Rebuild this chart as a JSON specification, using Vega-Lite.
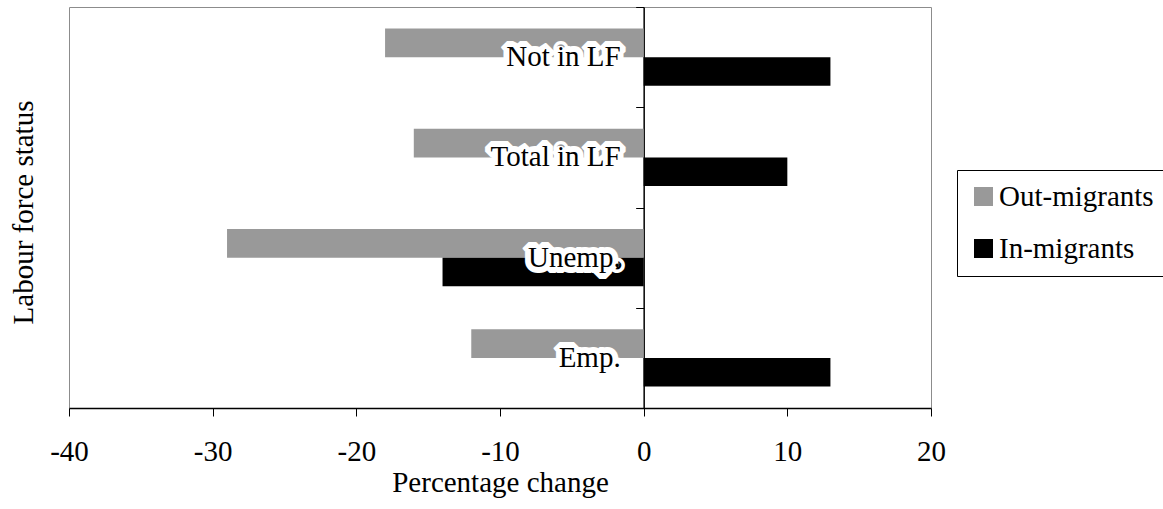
{
  "$schema": "https://vega.github.io/schema/vega-lite/v6.json",
  "autosize": {"type": "none"},
  "width": 862,
  "height": 401,
  "padding": {"left": 69, "top": 7, "right": 232, "bottom": 101},
  "background": "white",
  "config": {
    "font": "Liberation Serif",
    "view": {"stroke": "#8c8c8c", "strokeWidth": 1},
    "axis": {
      "labelFont": "Liberation Serif",
      "titleFont": "Liberation Serif",
      "labelColor": "black",
      "titleColor": "black",
      "titleFontWeight": "normal",
      "labelFontSize": 29,
      "titleFontSize": 29,
      "domainColor": "black",
      "tickColor": "black",
      "grid": false
    },
    "legend": {
      "labelFont": "Liberation Serif",
      "labelFontSize": 29,
      "labelColor": "black"
    }
  },
  "data": {
    "values": [
      {"status": "Not in LF", "group": "Out-migrants", "change": -18},
      {"status": "Not in LF", "group": "In-migrants", "change": 13},
      {"status": "Total in LF", "group": "Out-migrants", "change": -16},
      {"status": "Total in LF", "group": "In-migrants", "change": 10},
      {"status": "Unemp.", "group": "Out-migrants", "change": -29},
      {"status": "Unemp.", "group": "In-migrants", "change": -14},
      {"status": "Emp.", "group": "Out-migrants", "change": -12},
      {"status": "Emp.", "group": "In-migrants", "change": 13}
    ]
  },
  "encoding": {
    "y": {
      "field": "status",
      "type": "nominal",
      "sort": ["Not in LF", "Total in LF", "Unemp.", "Emp."],
      "scale": {"paddingInner": 0, "paddingOuter": 0},
      "axis": {
        "offset": -574.67,
        "labels": false,
        "tickBand": "extent",
        "tickSize": 8,
        "domainWidth": 1.5,
        "title": "Labour force status",
        "titleX": -611.67,
        "titleY": 205,
        "titleAngle": -90,
        "titleAlign": "center",
        "titleBaseline": "alphabetic"
      }
    }
  },
  "layer": [
    {
      "mark": {"type": "bar", "cornerRadius": 0},
      "encoding": {
        "x": {
          "field": "change",
          "type": "quantitative",
          "scale": {"domain": [-40, 20], "nice": false},
          "axis": {
            "values": [-40, -30, -20, -10, 0, 10, 20],
            "labelExpr": "'' + datum.value",
            "labelFlush": false,
            "tickSize": 8,
            "labelPadding": 21,
            "title": "Percentage change",
            "titlePadding": 2,
            "domainWidth": 1.5
          }
        },
        "yOffset": {
          "field": "group",
          "type": "nominal",
          "sort": ["Out-migrants", "In-migrants"],
          "scale": {"paddingInner": 0, "paddingOuter": 0.754}
        },
        "color": {
          "field": "group",
          "type": "nominal",
          "scale": {"domain": ["Out-migrants", "In-migrants"], "range": ["#999999", "#000000"]},
          "legend": {
            "title": null,
            "orient": "none",
            "legendX": 888,
            "legendY": 163,
            "symbolType": "square",
            "symbolSize": 361,
            "symbolStrokeWidth": 0,
            "symbolOpacity": 1,
            "labelOffset": 1,
            "rowPadding": 22,
            "padding": 12,
            "strokeColor": "black",
            "fillColor": "white",
            "labelLimit": 300
          }
        }
      }
    },
    {
      "data": {
        "values": [
          {"status": "Not in LF"},
          {"status": "Total in LF"},
          {"status": "Unemp."},
          {"status": "Emp."}
        ]
      },
      "mark": {
        "type": "text",
        "align": "right",
        "baseline": "middle",
        "dx": -23,
        "fontSize": 29,
        "font": "Liberation Serif",
        "fill": "white",
        "stroke": "white",
        "strokeWidth": 12,
        "strokeJoin": "bevel"
      },
      "encoding": {
        "x": {"datum": 0, "type": "quantitative"},
        "text": {"field": "status"}
      }
    },
    {
      "data": {
        "values": [
          {"status": "Not in LF"},
          {"status": "Total in LF"},
          {"status": "Unemp."},
          {"status": "Emp."}
        ]
      },
      "mark": {
        "type": "text",
        "align": "right",
        "baseline": "middle",
        "dx": -23,
        "fontSize": 29,
        "font": "Liberation Serif",
        "color": "black"
      },
      "encoding": {
        "x": {"datum": 0, "type": "quantitative"},
        "text": {"field": "status"}
      }
    }
  ]
}
